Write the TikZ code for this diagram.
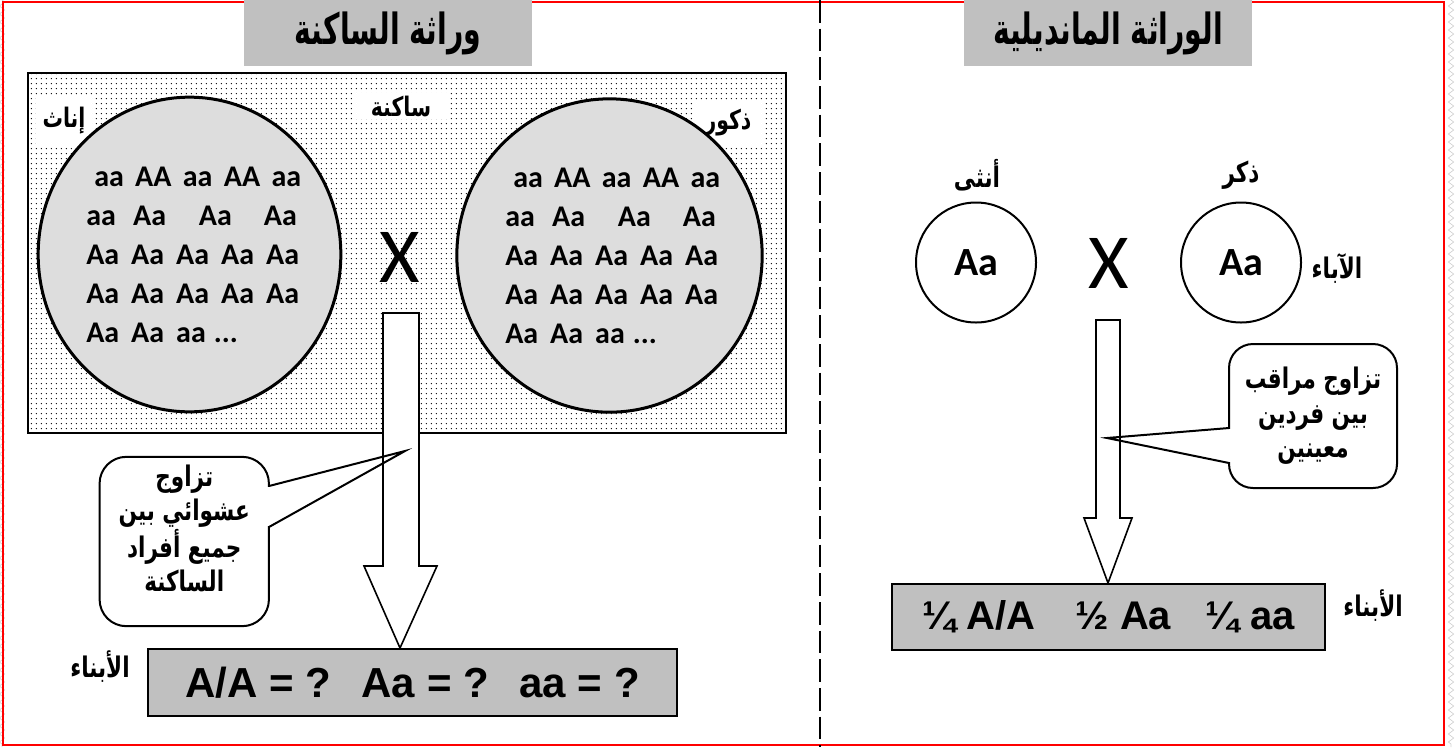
\documentclass[tikz,border=0pt]{standalone}
\usepackage{fontspec}
\usepackage{graphicx}
\setmainfont{Liberation Sans}
\newfontfamily\calibri{Carlito}
\newfontfamily\arabicfont[Script=Arabic]{DejaVu Sans}
\TeXXeTstate=1
\usetikzlibrary{positioning,shapes.geometric,patterns.meta,decorations.pathmorphing}

\definecolor{boxgray}{HTML}{C0C0C0}
\definecolor{poolgray}{HTML}{DDDDDD}

\newcommand{\ar}[1]{\scalebox{0.85}[1.12]{\arabicfont\bfseries\beginR #1\endR}}
\newcommand{\genolist}{%
  \hspace*{6pt}aa\hspace{8.5pt}AA\hspace{8.5pt}aa\hspace{8.5pt}AA\hspace{8.5pt}aa\\
  aa\hspace{13pt}Aa\hspace{24.5pt}Aa\hspace{24pt}Aa\\
  Aa\hspace{9pt}Aa\hspace{9pt}Aa\hspace{9pt}Aa\hspace{9pt}Aa\\
  Aa\hspace{9pt}Aa\hspace{9pt}Aa\hspace{9pt}Aa\hspace{9pt}Aa\\
  Aa\hspace{9pt}Aa\hspace{9pt}aa\hspace{6pt}...}

\begin{document}
\begin{tikzpicture}[
    x=0.75pt, y=-0.75pt,
    titlebox/.style={fill=boxgray, inner sep=0pt, minimum width=216pt, minimum height=49.5pt, font=\fontsize{25}{30}\selectfont},
    poolrect/.style={draw, line width=1.5pt, inner sep=0pt, minimum width=568.5pt, minimum height=270pt, pattern={Dots[distance=4pt, radius=0.55pt]}},
    poollabel/.style={fill=white, inner sep=0pt, font=\fontsize{18}{20}\selectfont},
    pool/.style={ellipse, draw, line width=2.25pt, fill=poolgray, inner sep=0pt},
    geno/.style={align=left, inner sep=0pt, anchor=west, font=\calibri\bfseries\fontsize{22.5}{29.25}\selectfont},
    cross/.style={inner sep=0pt, font=\calibri\fontsize{58.5}{60}\selectfont},
    parent/.style={circle, draw, line width=1.5pt, minimum size=90pt, inner sep=0pt, font=\calibri\bfseries\fontsize{30}{32}\selectfont},
    lab/.style={inner sep=0pt, font=\fontsize{19}{21}\selectfont},
    blockarrow/.style={draw, fill=white, line width=1.2pt, line join=miter},
    bubble/.style={draw, fill=white, line width=1.5pt, rounded corners=20pt, inner sep=0pt, align=center, font=\fontsize{19}{26}\selectfont},
    result/.style={draw, fill=boxgray, line width=1.5pt, inner sep=0pt}
]
\useasboundingbox (0,0) rectangle (1455,747);

% page edge and frame
\draw[gray!35, line width=0.5pt, decorate, decoration={zigzag, segment length=6pt, amplitude=2pt}] (2,0) -- (2,747);
\draw[gray!35, line width=0.5pt, decorate, decoration={zigzag, segment length=6pt, amplitude=2pt}] (1451,0) -- (1451,747);
\draw[red, line width=1.5pt] (3,2) rectangle (1444,745);
\draw[line width=2pt, dash pattern=on 17pt off 4.5pt] (820,0) -- (820,747);

% titles
\node[titlebox] (titleL) at (388,33) {\scalebox{1}[1.15]{\ar{وراثة الساكنة}}};
\node[titlebox] (titleR) at (1108,33) {\scalebox{1}[1.15]{\ar{الوراثة المانديلية}}};

% population (left)
\node[poolrect] (pop) at (407,253) {};
\node[poollabel, minimum width=42pt, minimum height=37.5pt] (labF) at (64,121) {\ar{إناث}};
\node[poollabel, minimum width=74pt, minimum height=19pt] (labP) at (401,106) {\ar{ساكنة}};
\node[poollabel, minimum width=52pt, minimum height=35pt] (labM) at (728,123) {\ar{ذكور}};
\node[pool, minimum width=227pt, minimum height=236pt] (popF) at (189.5,254.5) {};
\node[pool, minimum width=229pt, minimum height=235pt] (popM) at (609.5,255.5) {};
\node[geno] (genF) at (86,255) {\genolist};
\node[geno] (genM) at (505,256) {\genolist};
\node[cross] (crossL) at (399.5,257.5) {X};

% random mating arrow
\coordinate (tipL) at (400,648);
\draw[blockarrow] (tipL) -- ++(37,-82) -- ++(-18,0) -- ++(0,-253) -- ++(-36,0) -- ++(0,253) -- ++(-19,0) -- cycle;

\node[bubble, minimum width=127pt, minimum height=127pt] (bubL) at (184.25,541.5) {\ar{تزاوج}\\ \ar{عشوائي بين}\\ \ar{جميع أفراد}\\ \ar{الساكنة}\\[-6pt]};
\coordinate (ptrL) at (405,451);
\fill[white] (266,487) rectangle (272,526);
\draw[line width=1.5pt] (269,486) -- (ptrL) -- (269,527);

\node[result, minimum width=396.75pt, minimum height=50.25pt, font=\bfseries\fontsize{31.5}{36}\selectfont] (resL) at (412.5,682.5) {A/A = ?\hspace{23pt}Aa = ?\hspace{23pt}aa = ?};
\node[lab] (kidsL) at (100,667) {\ar{الأبناء}};

% mendel (right)
\node[lab] (femR) at (977,175) {\ar{أنثى}};
\node[lab] (malR) at (1241,175) {\ar{ذكر}};
\node[parent] (parF) at (976,262.5) {Aa};
\node[parent] (parM) at (1241,262.5) {Aa};
\node[cross] (crossR) at (1109,263) {X};
\node[lab] (parR) at (1337,268) {\ar{الآباء}};

\coordinate (tipR) at (1108,583);
\draw[blockarrow] (tipR) -- ++(24,-65) -- ++(-12,0) -- ++(0,-198) -- ++(-24,0) -- ++(0,198) -- ++(-12,0) -- cycle;

\node[bubble, rounded corners=18pt, minimum width=126pt, minimum height=108pt] (bubR) at (1313,416) {\ar{تزاوج مراقب}\\ \ar{بين فردين}\\ \ar{معينين}};
\coordinate (ptrR) at (1107,438);
\fill[white] (1226,429) rectangle (1232,462);
\draw[line width=1.5pt] (1229,428) -- (ptrR) -- (1229,463);

\node[result, minimum width=324.75pt, minimum height=49.5pt, font=\bfseries\fontsize{30}{34}\selectfont] (resR) at (1108.5,617) {¼ A/A\hspace{30pt}½ Aa\hspace{26pt}¼ aa};
\node[lab] (kidsR) at (1373,606) {\ar{الأبناء}};

\end{tikzpicture}
\end{document}
